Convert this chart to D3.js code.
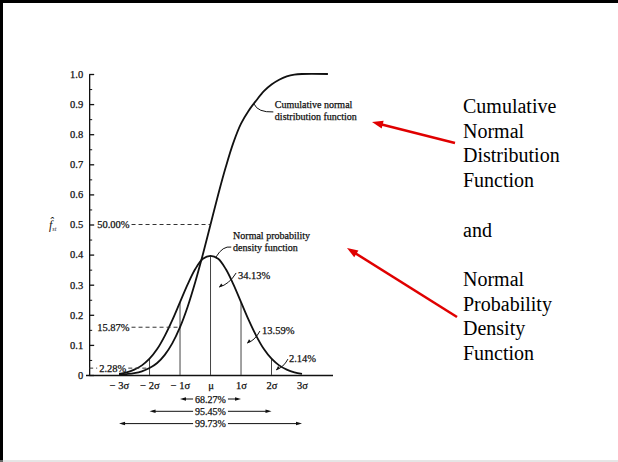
<!doctype html>
<html lang="en">
<head>
<meta charset="utf-8">
<script src="https://d3js.org/d3.v7.min.js"></script>
<style>
  html, body { margin: 0; padding: 0; background: #fff; }
  svg text { font-family: "Liberation Serif", "Times New Roman", serif; }
</style>
</head>
<body>
<div id="chart"></div>
<script>
// values (z in units of sigma)
var zGrid   = [-3, -2.75, -2.5, -2.25, -2, -1.75, -1.5, -1.25, -1, -0.75, -0.5, -0.25, 0,
               0.25, 0.5, 0.75, 1, 1.25, 1.5, 1.75, 2, 2.25, 2.5, 2.75, 3];
var pdfVals = [0.004, 0.009, 0.018, 0.032, 0.054, 0.086, 0.13, 0.183, 0.242, 0.301, 0.352, 0.386, 0.396,
               0.386, 0.352, 0.301, 0.242, 0.183, 0.13, 0.086, 0.054, 0.032, 0.018, 0.009, 0.004];
var cdfZ    = [-3, -2.75, -2.5, -2.25, -2, -1.75, -1.5, -1.25, -1, -0.75, -0.5, -0.25, 0,
               0.25, 0.5, 0.75, 1, 1.25, 1.5, 1.75, 2, 2.25, 2.5, 2.75, 3, 3.85];
var cdfVals = [0.001, 0.003, 0.006, 0.012, 0.023, 0.040, 0.067, 0.106, 0.159, 0.227, 0.309, 0.401, 0.5,
               0.599, 0.691, 0.772, 0.835, 0.878, 0.912, 0.943, 0.965, 0.981, 0.992, 0.998, 1.0, 1.0];

var yTicks      = [0, 0.1, 0.2, 0.3, 0.4, 0.5, 0.6, 0.7, 0.8, 0.9, 1.0];
var yTickLabels = ["0", "0.1", "0.2", "0.3", "0.4", "0.5", "0.6", "0.7", "0.8", "0.9", "1.0"];
var yMinor      = [0.05, 0.15, 0.25, 0.35, 0.45, 0.55, 0.65, 0.75, 0.85, 0.95];
var xTicks      = [-3, -2, -1, 0, 1, 2, 3];
var xTickLabels = ["\u2212 3\u03c3", "\u2212 2\u03c3", "\u2212 1\u03c3", "\u03bc", "1\u03c3", "2\u03c3", "3\u03c3"];
var sigmaLines  = [-2, -1, 0, 1, 2];

var cumLevels   = [0.5, 0.1587, 0.0228];
var cumLevelZ   = [0, -1, -2];
var cumLabels   = ["50.00%", "15.87%", "2.28%"];

var rangeSigma  = [1, 2, 3];
var rangeLabels = ["68.27%", "95.45%", "99.73%"];

var areaLabels  = ["34.13%", "13.59%", "2.14%"];
var areaAt      = [[0.9, 0.319], [1.69, 0.136], [2.57, 0.043]];
var areaLeader  = [[[0.28, 0.292], [0.84, 0.339]], [[1.2, 0.106], [1.62, 0.146]], [[2.15, 0.017], [2.54, 0.053]]];

var sideText = ["Cumulative", "Normal", "Distribution", "Function", "", "and", "", "Normal", "Probability", "Density", "Function"];

var W = 618, H = 462;
var ink = "#111";

var svg = d3.select("#chart").append("svg")
    .attr("width", W).attr("height", H);

// slide frame
svg.append("line").attr("x1", 1.5).attr("y1", 0).attr("x2", 1.5).attr("y2", H).attr("stroke", "#000").attr("stroke-width", 3);
svg.append("line").attr("x1", 0).attr("y1", 1.5).attr("x2", W).attr("y2", 1.5).attr("stroke", "#000").attr("stroke-width", 3);
svg.append("line").attr("x1", 0).attr("y1", H - 1).attr("x2", W).attr("y2", H - 1).attr("stroke", "#ccc").attr("stroke-width", 1);

var x = d3.scaleLinear().domain([-4.1, 4.0]).range([85.5, 332.5]);
var y = d3.scaleLinear().domain([0, 1]).range([375, 74]);
var axisX = x(-3.98);

function inkText(sel, size) {
    sel.attr("font-size", size).attr("fill", ink)
        .attr("stroke", ink).attr("stroke-width", 0.25)
        .attr("font-family", "Liberation Serif");
}

// y axis, ticks pointing inward
var yAx = svg.append("g")
    .attr("transform", "translate(" + axisX + ",0)")
    .call(d3.axisLeft(y).tickValues(yTicks).tickSizeInner(-5).tickSizeOuter(0).tickPadding(6)
        .tickFormat(function (d, i) { return yTickLabels[i]; }));
inkText(yAx.selectAll("text"), 10.5);
yAx.selectAll("line, path").attr("stroke", ink).attr("stroke-width", 1.3);

var yMin = svg.append("g")
    .attr("transform", "translate(" + axisX + ",0)")
    .call(d3.axisLeft(y).tickValues(yMinor).tickSizeInner(-3).tickSizeOuter(0).tickFormat(""));
yMin.selectAll("line").attr("stroke", ink).attr("stroke-width", 1);
yMin.select("path").remove();

// x axis
var xAx = svg.append("g")
    .attr("transform", "translate(0," + y(0) + ")")
    .call(d3.axisBottom(x).tickValues(xTicks).tickSize(0).tickPadding(7)
        .tickFormat(function (d, i) { return xTickLabels[i]; }));
inkText(xAx.selectAll("text"), 10.5);
xAx.select("path").attr("stroke", ink).attr("stroke-width", 1.4);

// f label
var fl = svg.append("text").attr("x", 49).attr("y", y(0.5) + 4)
    .attr("font-size", 12).attr("fill", ink).attr("font-style", "italic");
fl.append("tspan").text("f\u0302");
fl.append("tspan").attr("font-size", 6).attr("dy", 2).text("st");

// sigma verticals up to the pdf
svg.selectAll(".sig").data(sigmaLines).enter().append("line")
    .attr("x1", function (d) { return x(d); }).attr("x2", function (d) { return x(d); })
    .attr("y1", y(0))
    .attr("y2", function (d) { return y(pdfVals[zGrid.indexOf(d)]); })
    .attr("stroke", "#444").attr("stroke-width", 1);

// curves
var line = d3.line().curve(d3.curveCatmullRom);
svg.append("path")
    .attr("d", line(zGrid.map(function (z, i) { return [x(z), y(pdfVals[i])]; })))
    .attr("fill", "none").attr("stroke", ink).attr("stroke-width", 1.8);
svg.append("path")
    .attr("d", line(cdfZ.map(function (z, i) { return [x(z), y(cdfVals[i])]; })))
    .attr("fill", "none").attr("stroke", ink).attr("stroke-width", 1.8);

// cumulative level markers
var labX = axisX + 8;
cumLabels.forEach(function (lab, i) {
    var yy = y(cumLevels[i]);
    var lx = labX + (i == 2 ? 2 : 0);
    var t = svg.append("text").attr("x", lx).attr("y", yy + 3.5).text(lab);
    inkText(t, 10.5);
    var w = t.node().getComputedTextLength();
    svg.append("line").attr("x1", lx + w + 2).attr("x2", x(cumLevelZ[i]))
        .attr("y1", yy).attr("y2", yy)
        .attr("stroke", "#333").attr("stroke-width", 1).attr("stroke-dasharray", "4,3");
    if (i == 2) {
        svg.append("line").attr("x1", axisX).attr("x2", labX)
            .attr("y1", yy).attr("y2", yy)
            .attr("stroke", "#333").attr("stroke-width", 1).attr("stroke-dasharray", "4,3");
    }
});

function head(g, x1, y1, x2, y2, len, wid, col) {
    var a = Math.atan2(y2 - y1, x2 - x1);
    var bx = x2 - len * Math.cos(a), by = y2 - len * Math.sin(a);
    var px = Math.sin(a) * wid / 2, py = -Math.cos(a) * wid / 2;
    g.append("polygon")
        .attr("points", [[x2, y2], [bx + px, by + py], [bx - px, by - py]].map(function (p) { return p.join(","); }).join(" "))
        .attr("fill", col);
}

// area labels with leaders
areaLabels.forEach(function (lab, i) {
    inkText(svg.append("text").attr("x", x(areaAt[i][0])).attr("y", y(areaAt[i][1])).text(lab), 10.5);
    var p0 = areaLeader[i][0], p1 = areaLeader[i][1];
    var x0 = x(p0[0]), y0 = y(p0[1]), x1 = x(p1[0]), y1 = y(p1[1]);
    svg.append("path")
        .attr("d", "M" + x1 + "," + y1 + "Q" + (x0 + (x1 - x0) * 0.6) + "," + (y0 + (y1 - y0) * 0.2) + " " + x0 + "," + y0)
        .attr("fill", "none").attr("stroke", ink).attr("stroke-width", 1);
    head(svg, x0 + (x1 - x0) * 0.3, y0 + (y1 - y0) * 0.3, x0, y0, 4, 3, ink);
});

// curve names
var pdfName = svg.append("text").attr("x", x(0.74)).attr("y", y(0.452));
inkText(pdfName, 10);
pdfName.append("tspan").attr("x", x(0.74)).text("Normal probability");
pdfName.append("tspan").attr("x", x(0.74)).attr("dy", 12).text("density function");
svg.append("path")
    .attr("d", "M" + x(0.18) + "," + y(0.392) + "Q" + x(0.4) + "," + y(0.43) + " " + x(0.68) + "," + y(0.425))
    .attr("fill", "none").attr("stroke", ink).attr("stroke-width", 1);

var cdfName = svg.append("text").attr("x", x(2.11)).attr("y", y(0.887));
inkText(cdfName, 10);
cdfName.append("tspan").attr("x", x(2.11)).text("Cumulative normal");
cdfName.append("tspan").attr("x", x(2.11)).attr("dy", 12).text("distribution function");
svg.append("path")
    .attr("d", "M" + x(1.43) + "," + y(0.9) + "Q" + x(1.55) + "," + y(0.872) + " " + x(2.06) + "," + y(0.874))
    .attr("fill", "none").attr("stroke", ink).attr("stroke-width", 1);

// coverage arrows under the axis
rangeLabels.forEach(function (lab, i) {
    var yy = 399 + i * 12.3;
    var t = svg.append("text").attr("x", x(0)).attr("y", yy + 3.5)
        .attr("text-anchor", "middle").text(lab);
    inkText(t, 10);
    var hw = t.node().getComputedTextLength() / 2 + 2;
    var lx = x(-rangeSigma[i]), rx = x(rangeSigma[i]);
    svg.append("line").attr("x1", x(0) - hw).attr("x2", lx + 3).attr("y1", yy).attr("y2", yy)
        .attr("stroke", ink).attr("stroke-width", 1);
    svg.append("line").attr("x1", x(0) + hw).attr("x2", rx - 3).attr("y1", yy).attr("y2", yy)
        .attr("stroke", ink).attr("stroke-width", 1);
    head(svg, lx + 8, yy, lx, yy, 6, 3.5, ink);
    head(svg, rx - 8, yy, rx, yy, 6, 3.5, ink);
});

// right-hand slide text
svg.append("g").selectAll("text").data(sideText).enter().append("text")
    .attr("x", 463)
    .attr("y", function (d, i) { return 113 + i * 24.7; })
    .attr("font-size", 20).attr("fill", "#000")
    .text(function (d) { return d; });

// red pointers
var red = "#e00000";
[[455, 143, 372, 122], [457, 317, 347, 248]].forEach(function (a) {
    var ang = Math.atan2(a[3] - a[1], a[2] - a[0]);
    svg.append("line").attr("x1", a[0]).attr("y1", a[1])
        .attr("x2", a[2] - 8 * Math.cos(ang)).attr("y2", a[3] - 8 * Math.sin(ang))
        .attr("stroke", red).attr("stroke-width", 2.5);
    head(svg, a[0], a[1], a[2], a[3], 11, 8, red);
});
</script>
</body>
</html>
